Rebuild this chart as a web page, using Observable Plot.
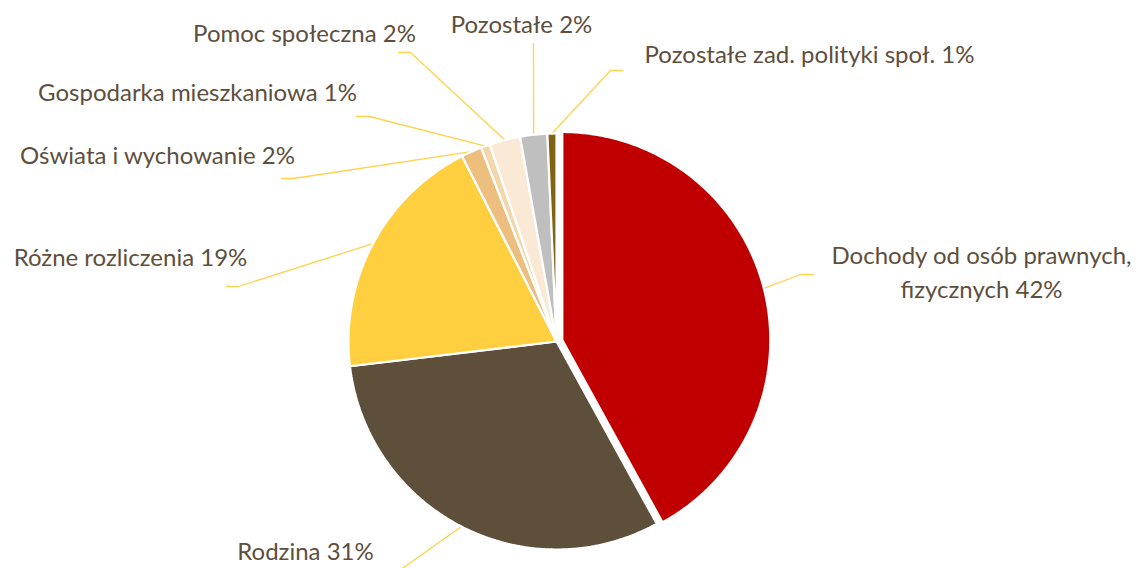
<!DOCTYPE html>
<html>
<head>
<meta charset="utf-8">
<script src="https://cdn.jsdelivr.net/npm/d3@7"></script>
<script src="https://cdn.jsdelivr.net/npm/@observablehq/plot@0.6"></script>
<style>
  html, body { margin: 0; padding: 0; background: #ffffff; }
  #chart svg { display: block; }
</style>
</head>
<body>
<div id="chart"></div>
<script>
// ---- data ----
const categories = [
  "Dochody od osób prawnych, fizycznych",
  "Rodzina",
  "Różne rozliczenia",
  "Oświata i wychowanie",
  "Gospodarka mieszkaniowa",
  "Pomoc społeczna",
  "Pozostałe",
  "Pozostałe zad. polityki społ."
];
const values = [42.0, 31.1, 19.4, 1.6, 0.7, 2.4, 2.1, 0.7];
const labelTexts = [
  "Dochody od osób prawnych,\nfizycznych 42%",
  "Rodzina 31%",
  "Różne rozliczenia 19%",
  "Oświata i wychowanie 2%",
  "Gospodarka mieszkaniowa 1%",
  "Pomoc społeczna 2%",
  "Pozostałe 2%",
  "Pozostałe zad. polityki społ. 1%"
];

// ---- styles ----
const sliceColors = ["#C00000", "#5E4F3B", "#FFCF40", "#EDBF7F", "#F3D6A9", "#FAEAD5", "#BFBFBF", "#7F6416"];
const explode = [6, 0, 0, 0, 0, 0, 0, 0];
const textColor = "#5E4F3D";
const leaderColor = "#FFD24D";
const fontSize = 24;

// ---- layout (pixels) ----
const W = 1143, H = 568;
const CX = 556, CY = 341, R = 208;
// leader elbow, leader end, label anchor (x, baseline y)
const labelLayout = [
  {elbow: [800, 274], end: [813, 274], text: [981, 297]},
  {elbow: [396, 572], end: [384, 572], text: [305, 559]},
  {elbow: [238, 286], end: [226, 286], text: [130, 265]},
  {elbow: [293, 178], end: [281, 178], text: [157, 163]},
  {elbow: [369, 116], end: [356, 116], text: [197, 100]},
  {elbow: [410, 52],  end: [398, 52],  text: [304, 41]},
  {elbow: [533, 43],  end: [533, 43],  text: [521, 32]},
  {elbow: [610, 70],  end: [622, 70],  text: [809, 62]}
];

// ---- geometry from the data ----
const arcs = d3.pie().sort(null).value(d => d.value).startAngle(0).endAngle(2 * Math.PI)(
  categories.map((c, i) => ({cat: c, value: values[i], i}))
);

const slicePts = [];
const leaderPts = [];
const labelRows = [];
arcs.forEach(a => {
  const i = a.data.i;
  const mid = (a.startAngle + a.endAngle) / 2;
  const ox = explode[i] * Math.sin(mid), oy = -explode[i] * Math.cos(mid);
  const cx = CX + ox, cy = CY + oy;
  const n = Math.max(4, Math.ceil((a.endAngle - a.startAngle) / 0.01));
  slicePts.push({cat: a.data.cat, x: cx, y: cy, color: sliceColors[i]});
  for (let k = 0; k <= n; k++) {
    const t = a.startAngle + (a.endAngle - a.startAngle) * k / n;
    slicePts.push({cat: a.data.cat, x: cx + R * Math.sin(t), y: cy - R * Math.cos(t), color: sliceColors[i]});
  }
  slicePts.push({cat: a.data.cat, x: cx, y: cy, color: sliceColors[i]});

  const L = labelLayout[i];
  leaderPts.push({cat: a.data.cat, x: cx + R * Math.sin(mid), y: cy - R * Math.cos(mid)});
  leaderPts.push({cat: a.data.cat, x: L.elbow[0], y: L.elbow[1]});
  leaderPts.push({cat: a.data.cat, x: L.end[0], y: L.end[1]});
  labelRows.push({cat: a.data.cat, text: labelTexts[i], x: L.text[0], y: L.text[1]});
});

const chart = Plot.plot({
  width: W,
  height: H,
  margin: 0,
  style: {background: "#ffffff", overflow: "hidden"},
  x: {domain: [0, W], range: [0, W], axis: null},
  y: {domain: [H, 0], range: [H, 0], axis: null},
  color: {type: "identity"},
  marks: [
    Plot.line(leaderPts, {x: "x", y: "y", z: "cat", stroke: leaderColor, strokeWidth: 1.3, curve: "linear"}),
    Plot.line(slicePts, {x: "x", y: "y", z: "cat", fill: "color", stroke: "#ffffff", strokeWidth: 2.2, strokeLinejoin: "miter", curve: "linear"}),
    Plot.text(labelRows, {
      x: "x", y: "y", text: "text",
      textAnchor: "middle", lineAnchor: "bottom", lineHeight: 34 / fontSize,
      fontSize: fontSize, fontFamily: "Lato, 'Open Sans', sans-serif",
      fill: textColor
    })
  ]
});
document.getElementById("chart").appendChild(chart);
</script>
</body>
</html>
